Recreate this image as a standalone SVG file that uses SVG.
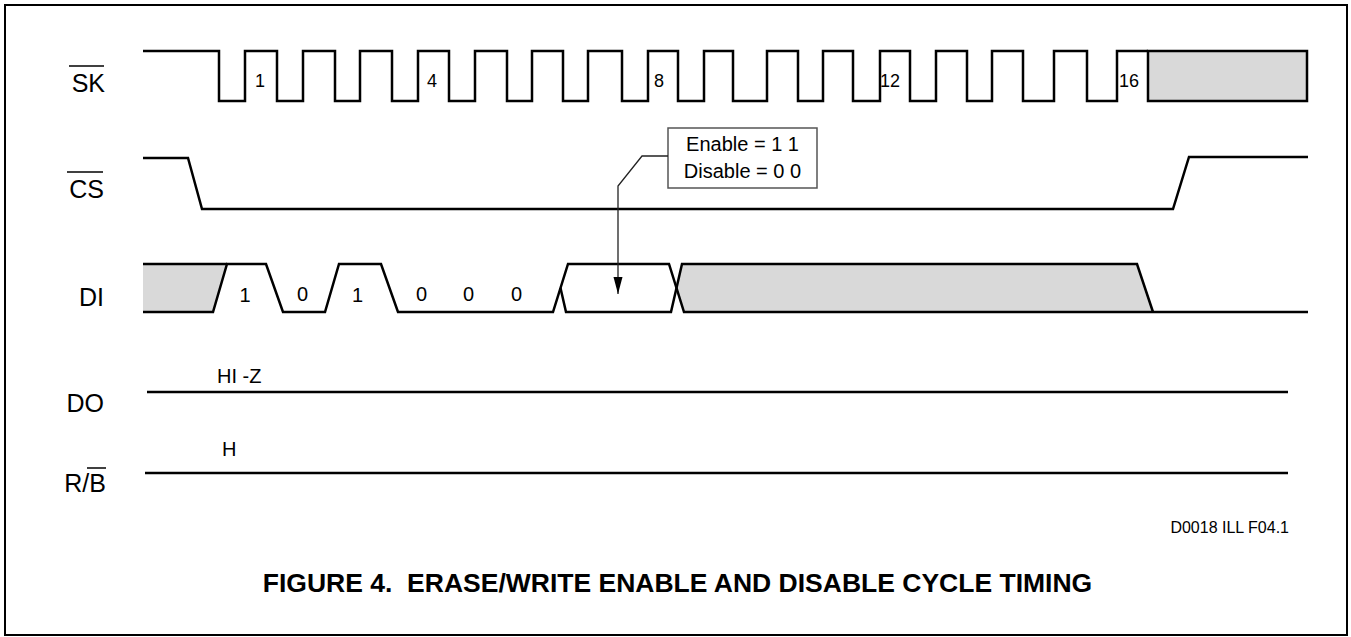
<svg xmlns="http://www.w3.org/2000/svg" width="1351" height="637" viewBox="0 0 1351 637">
<style>
.w{fill:none;stroke:#000;stroke-width:2.5;stroke-linejoin:miter}
.g{fill:#d9d9d9;stroke:none}
.lbl{font-family:"Liberation Sans",Arial,sans-serif;font-size:25px;fill:#000}
.num{font-family:"Liberation Sans",Arial,sans-serif;font-size:18px;fill:#000}
.bit{font-family:"Liberation Sans",Arial,sans-serif;font-size:20px;fill:#000;text-anchor:middle}
.sm{font-family:"Liberation Sans",Arial,sans-serif;font-size:20px;fill:#000}
.ov{stroke:#000;stroke-width:1.5}
</style>
<defs>
<marker id="ah" markerWidth="18" markerHeight="10" refX="17" refY="5" orient="auto" markerUnits="userSpaceOnUse" viewBox="0 0 18 10">
<path d="M0,0.5 L17,5 L0,9.5 Z" fill="#000"/>
</marker>
</defs>
<rect x="5" y="5" width="1342" height="630" fill="#fff" stroke="#000" stroke-width="2"/>

<g id="sig-sk">
<text class="lbl" x="105" y="92" text-anchor="end">SK</text>
<line class="ov" x1="69" y1="66" x2="104" y2="66"/>
<rect x="1148" y="51" width="159" height="50" fill="#d9d9d9" stroke="#000" stroke-width="2.5"/>
<path class="w" d="M143,51 H219 V101 H245 V51 H277 V101 H303 V51 H335 V101 H360 V51 H392 V101 H418 V51 H449 V101 H475 V51 H507 V101 H532 V51 H563 V101 H588 V51 H622 V101 H648 V51 H678 V101 H704 V51 H733 V101 H767 V51 H798 V101 H823 V51 H853 V101 H880 V51 H910 V101 H936 V51 H967 V101 H992 V51 H1023 V101 H1054 V51 H1087 V101 H1117 V51 H1148"/>
<text class="num" x="255" y="87">1</text>
<text class="num" x="427" y="87">4</text>
<text class="num" x="654" y="87">8</text>
<text class="num" x="880" y="87">12</text>
<text class="num" x="1119" y="87">16</text>
</g>

<g id="sig-cs">
<text class="lbl" x="104" y="198" text-anchor="end">CS</text>
<line class="ov" x1="67" y1="172" x2="103" y2="172"/>
<path class="w" d="M143,158 H188 L202,209 H1173 L1189,157 H1308"/>
</g>

<g id="sig-di">
<text class="lbl" x="104" y="306" text-anchor="end">DI</text>
<polygon class="g" points="143,264 227,264 213,312 143,312"/>
<polygon class="g" points="682,264 1137,264 1153,312 684,312 676.5,288"/>
<path class="w" d="M143,264 H227"/>
<path class="w" d="M143,312 H213 L227,264 H266 L283,312 H325 L339,264 H381 L398,312 H553 L568,264 H669 L684,312 H1308"/>
<path class="w" d="M560.5,288 L566,312 H671 L682,264 H1137 L1153,312"/>
<text class="bit" x="245" y="302">1</text>
<text class="bit" x="302.5" y="301">0</text>
<text class="bit" x="357.5" y="302">1</text>
<text class="bit" x="421.5" y="301">0</text>
<text class="bit" x="468.5" y="301">0</text>
<text class="bit" x="516.5" y="301">0</text>
</g>

<g id="sig-do">
<text class="lbl" x="104" y="412" text-anchor="end">DO</text>
<line class="w" x1="147" y1="392" x2="1288" y2="392"/>
<text class="sm" x="217" y="383">HI -Z</text>
</g>

<g id="sig-rb">
<text class="lbl" x="106" y="492" text-anchor="end">R/B</text>
<line class="ov" x1="87" y1="468" x2="106" y2="468"/>
<line class="w" x1="145" y1="473" x2="1288" y2="473"/>
<text class="sm" x="222" y="456">H</text>
</g>

<g id="callout">
<rect x="668" y="128" width="149" height="60" fill="#fff" stroke="#555" stroke-width="1.5"/>
<text class="sm" x="742.5" y="151" text-anchor="middle">Enable = 1 1</text>
<text class="sm" x="742.5" y="178" text-anchor="middle">Disable = 0 0</text>
</g>

<g id="connectors">
<path d="M668,156 H642 L618,186 V294" fill="none" stroke="#222" stroke-width="1.3" marker-end="url(#ah)"/>
</g>

<g id="captions">
<text x="1289" y="533" text-anchor="end" font-family="'Liberation Sans',Arial,sans-serif" font-size="16" fill="#000">D0018 ILL F04.1</text>
<text x="677.5" y="592" text-anchor="middle" font-family="'Liberation Sans',Arial,sans-serif" font-size="26.5" font-weight="bold" fill="#000" style="white-space:pre">FIGURE 4.  ERASE/WRITE ENABLE AND DISABLE CYCLE TIMING</text>
</g>
</svg>
